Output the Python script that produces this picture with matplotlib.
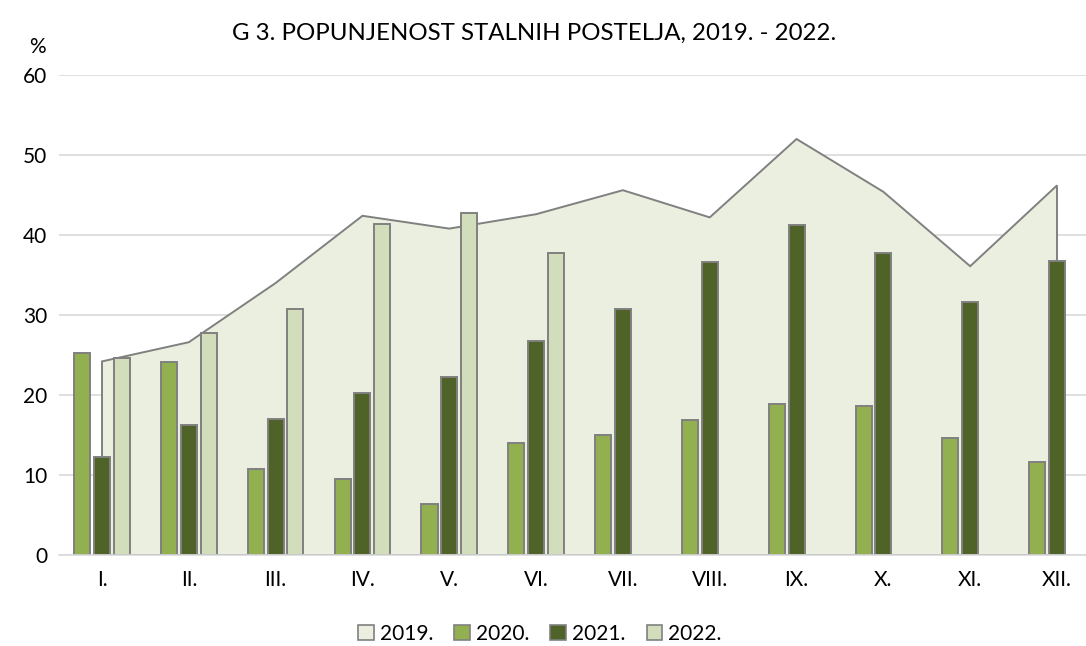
import matplotlib
matplotlib.use("Agg")
import matplotlib.pyplot as plt
import numpy as np
from matplotlib.patches import Patch

plt.rcParams['font.family'] = ['Lato', 'DejaVu Sans']

months = ["I.", "II.", "III.", "IV.", "V.", "VI.", "VII.", "VIII.", "IX.", "X.", "XI.", "XII."]
y2019 = [24.2, 26.6, 34.0, 42.4, 40.8, 42.6, 45.6, 42.2, 52.0, 45.4, 36.1, 46.2]
y2020 = [25.2, 24.1, 10.7, 9.5, 6.4, 14.0, 15.0, 16.9, 18.9, 18.6, 14.6, 11.6]
y2021 = [12.3, 16.3, 17.0, 20.2, 22.3, 26.7, 30.7, 36.6, 41.3, 37.8, 31.6, 36.8]
y2022 = [24.6, 27.8, 30.7, 41.4, 42.7, 37.7, None, None, None, None, None, None]
series_labels = ["2019.", "2020.", "2021.", "2022."]

c19 = "#EBEFDF"
c20 = "#92B050"
c21 = "#4F6228"
c22 = "#D2DEBB"
edge = "#808080"

W, H = 1086, 646
fig = plt.figure(figsize=(W / 100, H / 100), dpi=100)
ax = fig.add_axes([58.6 / W, (646 - 555) / H, 1041.8 / W, 480 / H])

x = np.arange(len(months))
ax.set_xlim(-0.5, len(months) - 0.5)
ax.set_ylim(0, 60)

# 2019 area
poly_x = np.concatenate([[x[0]], x, [x[-1]]])
poly_y = np.concatenate([[0], y2019, [0]])
ax.fill(poly_x, poly_y, facecolor=c19, edgecolor=edge, linewidth=1.4, zorder=2)

bw = 0.185
off = 0.228
ax.bar(x - off, y2020, width=bw, color=c20, edgecolor=edge, linewidth=1.4, zorder=3)
ax.bar(x, y2021, width=bw, color=c21, edgecolor=edge, linewidth=1.4, zorder=3)
x22 = [xi for xi, v in zip(x, y2022) if v is not None]
v22 = [v for v in y2022 if v is not None]
ax.bar(np.array(x22) + off, v22, width=bw, color=c22, edgecolor=edge, linewidth=1.4, zorder=3)

ax.set_yticks(np.arange(0, 61, 10))
ax.yaxis.grid(True, color="#D9D9D9", linewidth=1.2, zorder=0)
ax.set_axisbelow(True)
for s in ["top", "right", "left"]:
    ax.spines[s].set_visible(False)
ax.spines["bottom"].set_color("#D9D9D9")
ax.spines["bottom"].set_linewidth(1.2)
ax.spines["bottom"].set_zorder(4)
ax.tick_params(axis="both", length=0, labelsize=15, colors="black")
ax.tick_params(axis="y", pad=8)
ax.tick_params(axis="x", pad=11)
ax.set_xticks(x)
ax.set_xticklabels(months)

fig.text(37 / W, 1 - 47 / H, "%", fontsize=15, ha="center", va="center")
fig.text(534 / W, 1 - 33 / H, "G 3. POPUNJENOST STALNIH POSTELJA, 2019. - 2022.",
         fontsize=17.3, ha="center", va="center")

handles = [Patch(facecolor=c, edgecolor=edge, linewidth=1.2) for c in [c19, c20, c21, c22]]
fig.legend(handles, series_labels, loc="center", bbox_to_anchor=(540 / W, 1 - 634 / H),
           ncol=4, frameon=False, fontsize=15, handlelength=0.75, handleheight=0.75,
           handletextpad=0.3, columnspacing=1.0)

fig.savefig("out.png", dpi=100)
